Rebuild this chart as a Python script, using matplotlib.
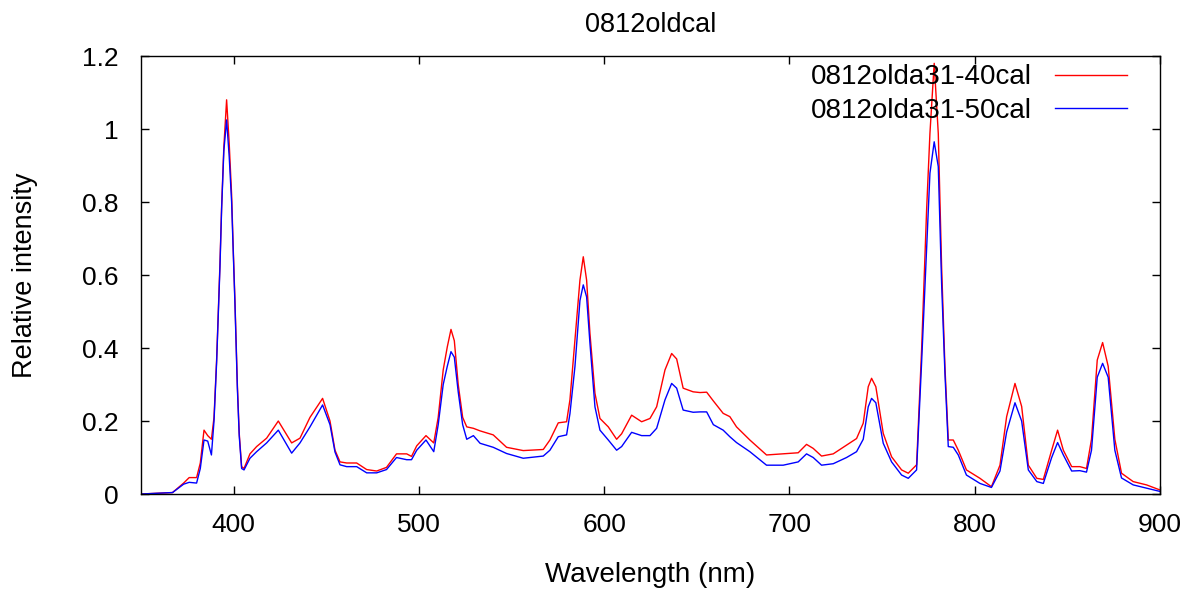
import matplotlib
matplotlib.use("Agg")
import matplotlib.pyplot as plt
from matplotlib.ticker import FuncFormatter

plt.rcParams['font.family'] = ['Liberation Sans', 'DejaVu Sans']

# wavelength (nm) and relative intensity
wl_40 = [350, 367, 373, 376, 380, 382, 384, 386, 388, 389.4, 390.8, 392.6, 393.5, 394.7,
         396.2, 397.6, 398.9, 399.8, 400.7, 402, 403, 404.3, 405.6, 408.8, 412.4, 417.8,
         424.1, 431.3, 435.8, 441.2, 448, 452, 454.7, 457.4, 461, 466.4, 471.8, 477.2,
         482.5, 487.9, 493.4, 496, 498.8, 503.8, 508, 510.4, 513.1, 515.3, 517.3, 519.1,
         521.2, 523.6, 525.8, 529.4, 533, 540.1, 547.3, 556.3, 567.1, 570.7, 575.2, 579.7,
         581.5, 584.2, 586.9, 588.7, 590.5, 592.3, 595, 597.7, 602.2, 606.7, 609.4, 614.8,
         620.2, 624.7, 628.3, 632.8, 636.4, 639.1, 642.6, 648, 651.7, 655.3, 658.9, 664.2,
         667.8, 671.4, 678.6, 687.6, 696.6, 704.7, 709.2, 712.8, 717.3, 723.6, 730.8, 736.2,
         739.8, 742.5, 744.3, 746.6, 750.6, 755.1, 760.5, 764.1, 768.6, 771.3, 774, 775.8,
         778.1, 780.3, 782.1, 783.9, 785.7, 788.4, 791.1, 795.5, 802.8, 809, 813.6, 817.2,
         821.7, 825.3, 828.9, 833.5, 837, 841.5, 844.7, 847.8, 852.3, 856.7, 860.3, 863,
         866.1, 869, 872, 875.6, 879.2, 885.5, 892.7, 900]
int_40 = [0.0, 0.004, 0.03, 0.045, 0.045, 0.085, 0.175, 0.16, 0.15, 0.21, 0.367, 0.63, 0.787, 0.95,
          1.08, 0.96, 0.82, 0.668, 0.53, 0.30, 0.167, 0.075, 0.07, 0.11, 0.13, 0.153,
          0.20, 0.14, 0.153, 0.21, 0.262, 0.20, 0.12, 0.088, 0.085, 0.085, 0.067, 0.063,
          0.073, 0.11, 0.11, 0.103, 0.132, 0.16, 0.14, 0.21, 0.34, 0.403, 0.451, 0.42,
          0.30, 0.21, 0.184, 0.18, 0.173, 0.162, 0.128, 0.119, 0.122, 0.148, 0.195, 0.198,
          0.258, 0.422, 0.586, 0.65, 0.586, 0.44, 0.276, 0.207, 0.184, 0.15, 0.165, 0.216,
          0.198, 0.207, 0.239, 0.34, 0.385, 0.37, 0.29, 0.28, 0.278, 0.279, 0.255, 0.221,
          0.212, 0.184, 0.148, 0.107, 0.11, 0.113, 0.136, 0.125, 0.104, 0.11, 0.134, 0.152,
          0.194, 0.294, 0.317, 0.294, 0.166, 0.102, 0.066, 0.057, 0.08, 0.395, 0.778, 0.988,
          1.18, 0.988, 0.623, 0.349, 0.148, 0.148, 0.12, 0.066, 0.043, 0.02, 0.079, 0.212,
          0.303, 0.24, 0.079, 0.043, 0.04, 0.12, 0.175, 0.12, 0.075, 0.075, 0.07, 0.15,
          0.367, 0.415, 0.35, 0.15, 0.057, 0.034, 0.025, 0.011]

wl_50 = wl_40
int_50 = [0.0, 0.004, 0.027, 0.032, 0.03, 0.07, 0.148, 0.145, 0.107, 0.2, 0.36, 0.62, 0.78, 0.94,
          1.025, 0.924, 0.80, 0.66, 0.52, 0.29, 0.16, 0.07, 0.066, 0.098, 0.116, 0.14,
          0.175, 0.112, 0.14, 0.184, 0.244, 0.19, 0.115, 0.08, 0.075, 0.075, 0.058, 0.058,
          0.067, 0.1, 0.094, 0.094, 0.12, 0.148, 0.116, 0.19, 0.30, 0.35, 0.39, 0.375,
          0.28, 0.19, 0.15, 0.16, 0.139, 0.128, 0.111, 0.098, 0.104, 0.12, 0.157, 0.162,
          0.22, 0.349, 0.53, 0.573, 0.54, 0.413, 0.239, 0.175, 0.148, 0.12, 0.13, 0.169,
          0.16, 0.16, 0.18, 0.258, 0.303, 0.29, 0.23, 0.224, 0.225, 0.225, 0.19, 0.175,
          0.157, 0.141, 0.116, 0.079, 0.079, 0.088, 0.11, 0.1, 0.079, 0.083, 0.1, 0.116,
          0.15, 0.239, 0.262, 0.25, 0.139, 0.088, 0.052, 0.043, 0.066, 0.36, 0.668, 0.879,
          0.965, 0.897, 0.577, 0.33, 0.13, 0.128, 0.107, 0.052, 0.029, 0.018, 0.063, 0.17,
          0.25, 0.2, 0.066, 0.034, 0.029, 0.1, 0.141, 0.107, 0.063, 0.064, 0.06, 0.12,
          0.32, 0.358, 0.32, 0.12, 0.044, 0.025, 0.016, 0.007]

fig = plt.figure(figsize=(11.92, 5.91), dpi=100)
ax = fig.add_axes([0.1183, 0.1641, 0.8549, 0.7411])

ax.plot(wl_40, int_40, color='#ff0000', lw=1.0, label='0812olda31-40cal')
ax.plot(wl_50, int_50, color='#0000ff', lw=1.0, label='0812olda31-50cal')

ax.set_xlim(350, 900)
ax.set_ylim(0, 1.2)
ax.set_xticks([400, 500, 600, 700, 800, 900])
ax.set_yticks([0, 0.2, 0.4, 0.6, 0.8, 1.0, 1.2])
ax.yaxis.set_major_formatter(FuncFormatter(lambda v, p: '%g' % round(v, 2)))
ax.tick_params(direction='in', top=True, right=True, length=6, width=1,
               labelsize=19)
ax.tick_params(axis='y', pad=16)
ax.tick_params(axis='x', pad=14)
for s in ax.spines.values():
    s.set_linewidth(1.0)

ax.set_xlabel('Wavelength (nm)', fontsize=20, labelpad=18)
ax.set_ylabel('Relative intensity', fontsize=19.5, labelpad=32)
ax.set_title('0812oldcal', fontsize=19.5, pad=17)

ax.legend(loc='upper right', frameon=False, markerfirst=False, fontsize=20,
          handlelength=2.6, handletextpad=0.8, labelspacing=0.28,
          borderpad=0.3, borderaxespad=0, bbox_to_anchor=(0.9755, 1.0))

fig.savefig('out.png', dpi=100)
